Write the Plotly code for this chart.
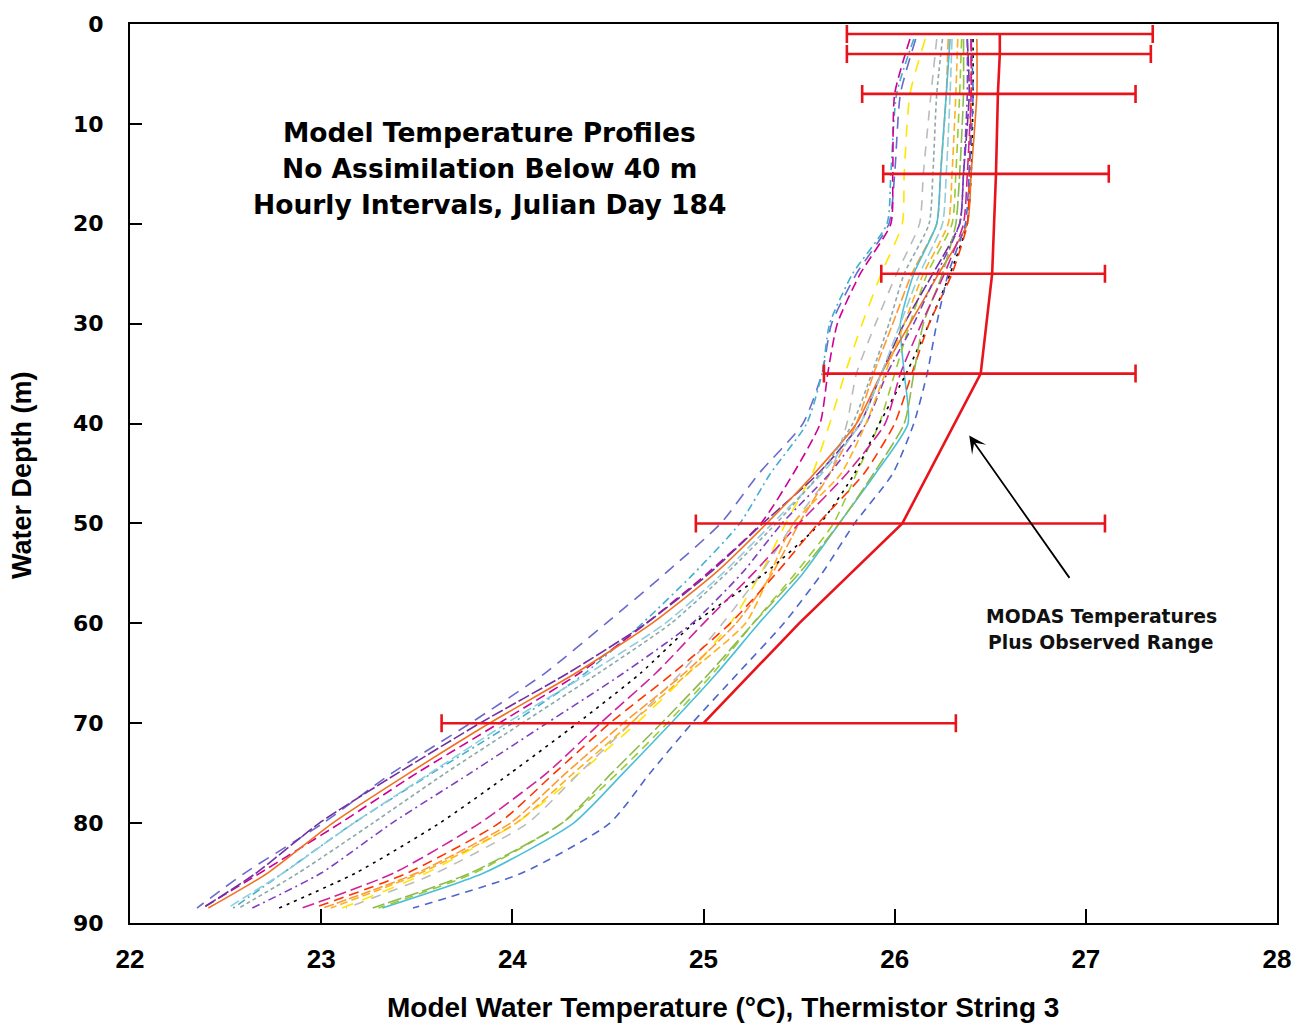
import plotly.graph_objects as go

# ---------------- data ----------------
depths = [1.5, 7, 15, 20, 25, 30, 35, 40, 45, 50, 55, 60, 65, 70, 75, 80, 85, 88.5]

profiles = {
    "A": [26.11, 26.03, 26.00, 25.97, 25.80, 25.67, 25.62, 25.52, 25.29, 25.09, 24.80, 24.49, 24.17, 23.78, 23.37, 23.01, 22.60, 22.35],
    "B": [26.10, 26.01, 25.98, 25.96, 25.78, 25.66, 25.62, 25.54, 25.35, 25.19, 24.95, 24.68, 24.38, 24.00, 23.58, 23.17, 22.80, 22.54],
    "C": [26.08, 26.00, 25.99, 25.98, 25.82, 25.70, 25.65, 25.61, 25.47, 25.30, 25.02, 24.70, 24.35, 23.93, 23.50, 23.10, 22.68, 22.38],
    "D": [26.16, 26.08, 26.05, 26.04, 25.93, 25.83, 25.74, 25.66, 25.57, 25.43, 25.30, 25.14, 24.92, 24.65, 24.35, 24.02, 23.55, 23.11],
    "E": [26.22, 26.19, 26.15, 26.13, 26.01, 25.90, 25.80, 25.75, 25.66, 25.47, 25.30, 25.10, 24.88, 24.62, 24.35, 24.08, 23.60, 23.13],
    "F": [26.28, 26.27, 26.24, 26.22, 26.09, 25.99, 25.89, 25.80, 25.66, 25.50, 25.36, 25.17, 24.90, 24.58, 24.28, 23.99, 23.50, 23.01],
    "G": [26.29, 26.27, 26.24, 26.22, 26.10, 26.03, 26.05, 26.07, 25.90, 25.71, 25.52, 25.29, 25.07, 24.83, 24.58, 24.32, 23.85, 23.32],
    "H": [26.35, 26.34, 26.32, 26.30, 26.17, 26.08, 26.00, 25.92, 25.80, 25.68, 25.48, 25.26, 25.05, 24.81, 24.55, 24.26, 23.80, 23.30],
    "I": [26.38, 26.39, 26.36, 26.34, 26.20, 26.05, 25.93, 25.82, 25.60, 25.31, 25.03, 24.70, 24.29, 23.83, 23.40, 22.99, 22.66, 22.38],
    "J": [26.41, 26.41, 26.40, 26.38, 26.29, 26.18, 26.06, 25.92, 25.79, 25.61, 25.32, 24.95, 24.67, 24.34, 23.99, 23.62, 23.18, 22.78],
    "K": [26.43, 26.43, 26.40, 26.38, 26.23, 26.08, 25.93, 25.80, 25.58, 25.33, 25.06, 24.73, 24.33, 23.88, 23.46, 23.06, 22.72, 22.41],
    "L": [26.40, 26.40, 26.39, 26.38, 26.30, 26.18, 26.09, 26.00, 25.84, 25.60, 25.38, 25.14, 24.84, 24.51, 24.22, 23.93, 23.45, 22.96],
    "M": [26.40, 26.41, 26.39, 26.37, 26.28, 26.22, 26.17, 26.10, 25.99, 25.79, 25.62, 25.42, 25.18, 24.94, 24.72, 24.51, 24.05, 23.48],
    "N": [26.36, 26.36, 26.34, 26.32, 26.25, 26.15, 26.10, 26.05, 25.89, 25.71, 25.50, 25.26, 25.03, 24.78, 24.52, 24.26, 23.78, 23.27],
    "O": [26.38, 26.38, 26.36, 26.34, 26.22, 26.10, 25.96, 25.85, 25.66, 25.41, 25.20, 24.94, 24.58, 24.18, 23.78, 23.37, 23.00, 22.64],
    "P": [26.30, 26.29, 26.27, 26.25, 26.13, 26.03, 25.93, 25.82, 25.62, 25.36, 25.10, 24.80, 24.40, 23.97, 23.57, 23.17, 22.80, 22.51],
    "Q": [26.25, 26.22, 26.20, 26.18, 26.05, 25.97, 25.88, 25.78, 25.61, 25.38, 25.12, 24.83, 24.45, 24.05, 23.65, 23.27, 22.88, 22.57],
    "R": [26.40, 26.40, 26.38, 26.36, 26.26, 26.14, 26.03, 25.95, 25.75, 25.50, 25.26, 25.00, 24.75, 24.46, 24.18, 23.83, 23.38, 22.90],
    "S": [26.33, 26.32, 26.30, 26.28, 26.15, 26.05, 25.95, 25.85, 25.72, 25.47, 25.35, 25.22, 24.92, 24.62, 24.32, 24.02, 23.52, 23.05],
}

profile_styles = {
    "A": ("#6A6ACD", "12px,8px"),
    "B": ("#3FAFCF", "8px,4px,2px,4px"),
    "C": ("#CC0099", "10px,5px"),
    "D": ("#FFE600", "12px,10px"),
    "E": ("#BBBBBB", "10px,8px"),
    "F": ("#FF9933", "10px,3px"),
    "G": ("#4BBFD8", "solid"),
    "H": ("#99CC33", "9px,6px"),
    "I": ("#7030A0", "12px,3px"),
    "J": ("#000000", "3px,5px"),
    "K": ("#F07020", "solid"),
    "L": ("#FF3300", "10px,6px"),
    "M": ("#4D66CC", "8px,6px"),
    "N": ("#8DBB4A", "14px,4px"),
    "O": ("#7F3FBF", "8px,4px,2px,4px"),
    "P": ("#92CDDC", "10px,4px"),
    "Q": ("#8FA8A8", "4px,3px"),
    "R": ("#D0209A", "12px,5px"),
    "S": ("#FFB020", "8px,4px"),
}

modas_depth = [1, 3, 7, 15, 25, 35, 50, 60, 70]
modas_temp = [26.55, 26.55, 26.54, 26.53, 26.51, 26.45, 26.04, 25.50, 25.00]

range_depth = [1, 3, 7, 15, 25, 35, 50, 70]
range_center = [26.55, 26.55, 26.54, 26.53, 26.51, 26.45, 26.04, 25.00]
range_low = [25.75, 25.75, 25.83, 25.94, 25.93, 25.63, 24.96, 23.63]
range_high = [27.35, 27.34, 27.26, 27.12, 27.10, 27.26, 27.10, 26.32]

x_ticks = [22, 23, 24, 25, 26, 27, 28]
y_ticks = [0, 10, 20, 30, 40, 50, 60, 70, 80, 90]

title_lines = ["Model Temperature Profiles", "No Assimilation Below 40 m",
               "Hourly Intervals, Julian Day 184"]
title_depths = [10.9, 14.5, 18.1]
note_lines = ["MODAS Temperatures", "Plus Observed Range"]
note_depths = [59.3, 61.9]

# ---------------- figure ----------------
fig = go.Figure()

for name, temps in profiles.items():
    color, dash = profile_styles[name]
    fig.add_trace(go.Scatter(
        x=temps, y=depths, mode="lines",
        line=dict(color=color, width=1.6, dash=dash, shape="spline", smoothing=0.6),
        showlegend=False, hoverinfo="skip"))

fig.add_trace(go.Scatter(
    x=modas_temp, y=modas_depth, mode="lines",
    line=dict(color="#E8141B", width=2.6), showlegend=False))

fig.add_trace(go.Scatter(
    x=range_center, y=range_depth, mode="markers",
    marker=dict(size=1, color="rgba(0,0,0,0)"),
    error_x=dict(type="data", symmetric=False,
                 array=[h - c for h, c in zip(range_high, range_center)],
                 arrayminus=[c - l for c, l in zip(range_center, range_low)],
                 color="#E8141B", thickness=2.6, width=9),
    showlegend=False))

ann = []
for t, d in zip(title_lines, title_depths):
    ann.append(dict(x=23.88, y=d, xref="x", yref="y", text=t,
                    showarrow=False, xanchor="center", yanchor="middle",
                    font=dict(family="DejaVu Sans, Arial", size=26.5, color="black",
                              weight="bold")))
for t, d in zip(note_lines, note_depths):
    ann.append(dict(x=27.08, y=d, xref="x", yref="y", text=t,
                    showarrow=False, xanchor="center", yanchor="middle",
                    font=dict(family="DejaVu Sans, Arial", size=18.8, color="#111111",
                              weight="bold")))
# arrow
ann.append(dict(x=26.39, y=41.2, ax=26.92, ay=55.6, xref="x", yref="y",
                axref="x", ayref="y", text="", showarrow=True, arrowhead=3,
                arrowsize=1.6, arrowwidth=1.8, arrowcolor="black"))
# axis titles
ann.append(dict(x=(724 - 130) / 1148, y=-(1008 - 923) / 905, xref="paper", yref="paper",
                text="Model Water Temperature (°C), Thermistor String 3",
                showarrow=False, xanchor="center", yanchor="middle",
                font=dict(family="Liberation Sans, Arial", size=28, weight="bold", color="black")))
ann.append(dict(x=-(130 - 22) / 1148, y=(923 - 472) / 905, xref="paper", yref="paper",
                text="Water Depth (m)", textangle=-90, showarrow=False,
                xanchor="center", yanchor="middle",
                font=dict(family="Liberation Sans, Arial", size=27, weight="bold", color="black")))

fig.update_layout(
    width=1303, height=1024,
    margin=dict(l=130, r=25, t=18, b=101),
    paper_bgcolor="white", plot_bgcolor="white",
    showlegend=False,
    annotations=ann,
)

fig.update_xaxes(range=[22, 28], tickvals=x_ticks, ticktext=[str(v) for v in x_ticks],
                 showgrid=False, zeroline=False, showline=True, linecolor="black",
                 linewidth=2, mirror=True, ticks="inside", ticklen=14, tickwidth=2,
                 tickcolor="black", ticklabelstandoff=12,
                 tickfont=dict(family="Liberation Sans, Arial",
                               size=26, color="black", weight="bold"))
fig.update_yaxes(range=[90, 0], tickvals=y_ticks, ticktext=[str(v) for v in y_ticks],
                 showgrid=False, zeroline=False, showline=True, linecolor="black",
                 linewidth=2, mirror=True, ticks="inside", ticklen=12, tickwidth=2,
                 tickcolor="black", ticklabelstandoff=20,
                 tickfont=dict(family="DejaVu Sans, Arial", size=22, color="black",
                               weight="bold"))

fig.write_html("out.html")
